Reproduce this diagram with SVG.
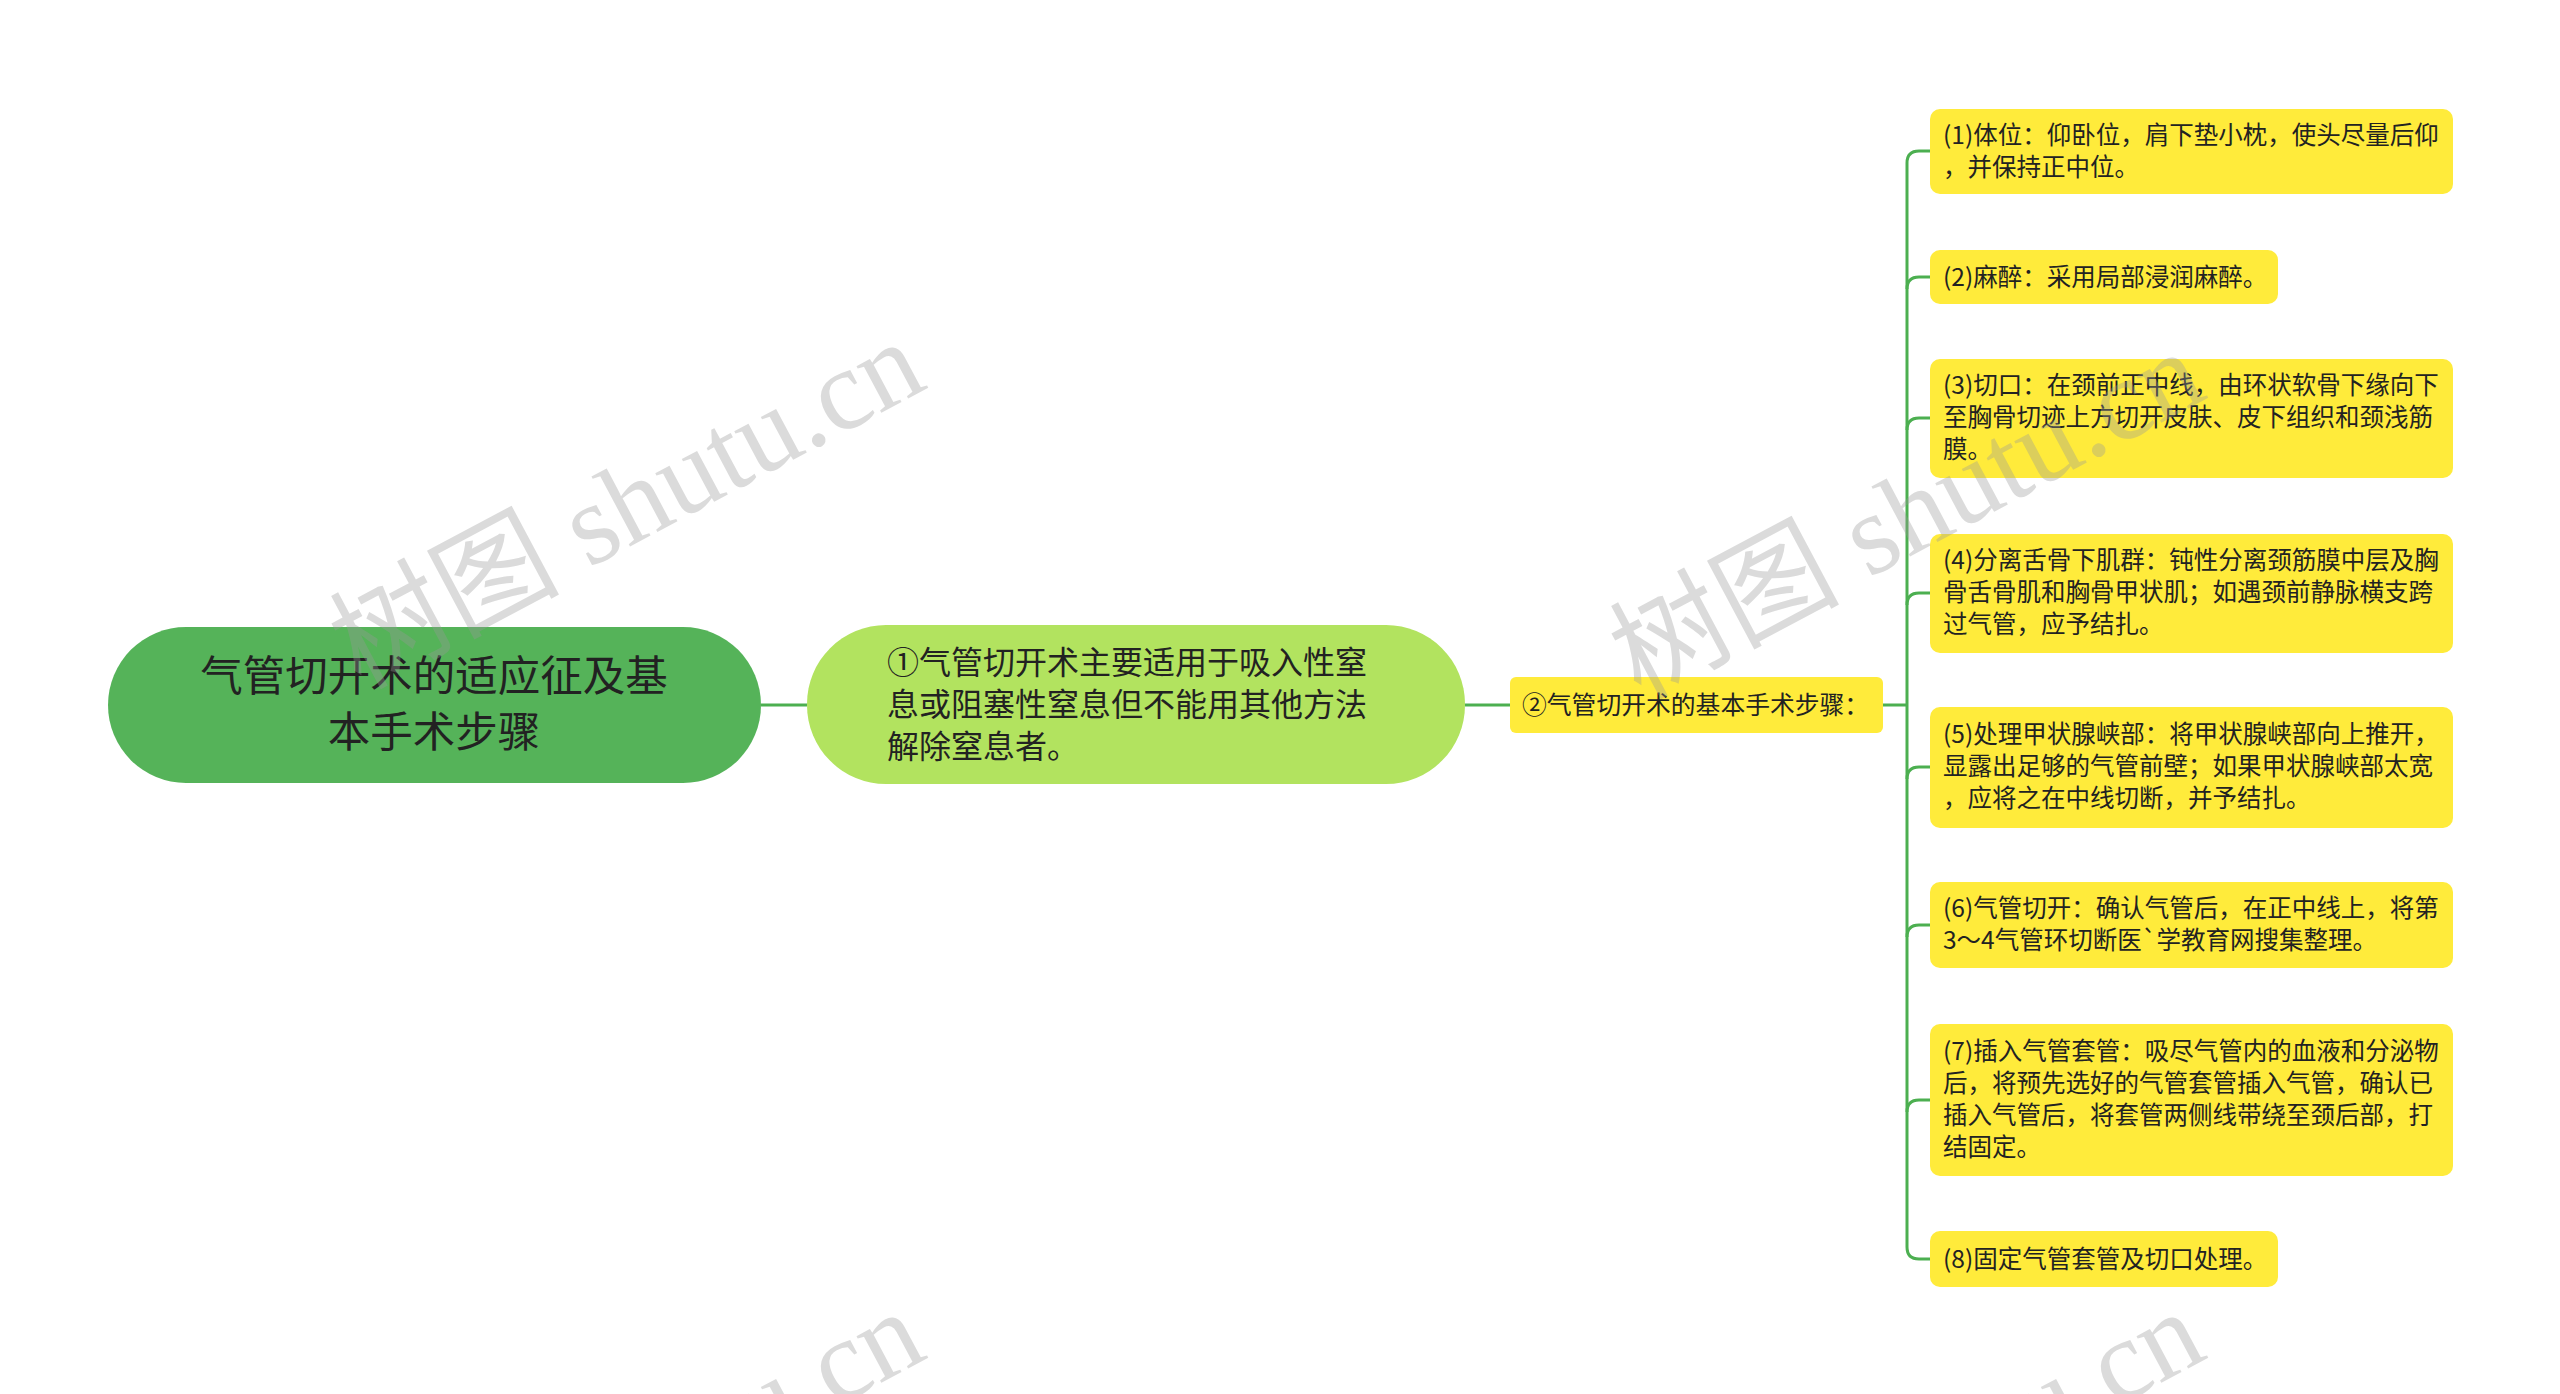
<svg xmlns="http://www.w3.org/2000/svg" width="2560" height="1394" viewBox="0 0 2560 1394">
<style>
.t{font-family:"Noto Sans CJK SC","Liberation Sans",sans-serif;fill:#222}
.y{fill:#ffeb3b}
.s{font-size:24.5px}
.c{fill:none;stroke:#4caf50;stroke-width:3}
.wm{font-family:"Liberation Serif","Noto Sans CJK SC",serif;font-size:115px;fill:#999;opacity:0.35}
</style>
<rect width="2560" height="1394" fill="#fff"/>
<g id="connectors">
<path class="c" d="M761 705H807M1465 705H1510M1883 705H1907"/>
<path class="c" d="M1930 151H1919Q1907 151 1907 163V1247Q1907 1259 1919 1259H1930"/>
<path class="c" d="M1930 277H1919Q1907 277 1907 289M1930 418H1919Q1907 418 1907 430M1930 593H1919Q1907 593 1907 605M1930 767H1919Q1907 767 1907 779M1930 925H1919Q1907 925 1907 937M1930 1100H1919Q1907 1100 1907 1112"/>
</g>
<g id="root"><rect x="108" y="627" width="653" height="156" rx="78" fill="#4caf50" opacity="0.95"/>
<text class="t" font-size="42.5" text-anchor="middle"><tspan x="434" y="691">气管切开术的适应征及基</tspan><tspan x="434" y="747">本手术步骤</tspan></text></g>
<g id="n1"><rect x="807" y="625" width="658" height="159" rx="79" fill="#b2e35f"/>
<text class="t" font-size="32"><tspan x="887" y="674">①气管切开术主要适用于吸入性窒</tspan><tspan x="887" y="716">息或阻塞性窒息但不能用其他方法</tspan><tspan x="887" y="758">解除窒息者。</tspan></text></g>
<g id="n2"><rect class="y" x="1510" y="677" width="373" height="56" rx="6"/>
<text class="t" font-size="24.8" x="1522" y="714">②气管切开术的基本手术步骤：</text></g>
<g id="b1"><rect class="y" x="1930" y="109" width="523" height="85" rx="10"/>
<text class="t s"><tspan x="1943" y="144">(1)体位：仰卧位，肩下垫小枕，使头尽量后仰</tspan><tspan x="1943" y="176">，并保持正中位。</tspan></text></g>
<g id="b2"><rect class="y" x="1930" y="250" width="348" height="54" rx="10"/>
<text class="t s" x="1943" y="286">(2)麻醉：采用局部浸润麻醉。</text></g>
<g id="b3"><rect class="y" x="1930" y="359" width="523" height="119" rx="10"/>
<text class="t s"><tspan x="1943" y="394">(3)切口：在颈前正中线，由环状软骨下缘向下</tspan><tspan x="1943" y="426">至胸骨切迹上方切开皮肤、皮下组织和颈浅筋</tspan><tspan x="1943" y="458">膜。</tspan></text></g>
<g id="b4"><rect class="y" x="1930" y="534" width="523" height="119" rx="10"/>
<text class="t s"><tspan x="1943" y="569">(4)分离舌骨下肌群：钝性分离颈筋膜中层及胸</tspan><tspan x="1943" y="601">骨舌骨肌和胸骨甲状肌；如遇颈前静脉横支跨</tspan><tspan x="1943" y="633">过气管，应予结扎。</tspan></text></g>
<g id="b5"><rect class="y" x="1930" y="707" width="523" height="121" rx="10"/>
<text class="t s"><tspan x="1943" y="743">(5)处理甲状腺峡部：将甲状腺峡部向上推开，</tspan><tspan x="1943" y="775">显露出足够的气管前壁；如果甲状腺峡部太宽</tspan><tspan x="1943" y="807">，应将之在中线切断，并予结扎。</tspan></text></g>
<g id="b6"><rect class="y" x="1930" y="882" width="523" height="86" rx="10"/>
<text class="t s"><tspan x="1943" y="917">(6)气管切开：确认气管后，在正中线上，将第</tspan><tspan x="1943" y="949">3～4气管环切断医`学教育网搜集整理。</tspan></text></g>
<g id="b7"><rect class="y" x="1930" y="1024" width="523" height="152" rx="10"/>
<text class="t s"><tspan x="1943" y="1060">(7)插入气管套管：吸尽气管内的血液和分泌物</tspan><tspan x="1943" y="1092">后，将预先选好的气管套管插入气管，确认已</tspan><tspan x="1943" y="1124">插入气管后，将套管两侧线带绕至颈后部，打</tspan><tspan x="1943" y="1156">结固定。</tspan></text></g>
<g id="b8"><rect class="y" x="1930" y="1231" width="348" height="56" rx="10"/>
<text class="t s" x="1943" y="1268">(8)固定气管套管及切口处理。</text></g>
<g id="watermarks">
<text class="wm" transform="translate(360,690) rotate(-28)">树图 shutu.cn</text>
<text class="wm" transform="translate(1640,700) rotate(-28)">树图 shutu.cn</text>
<text class="wm" transform="translate(360,1660) rotate(-28)">树图 shutu.cn</text>
<text class="wm" transform="translate(1640,1660) rotate(-28)">树图 shutu.cn</text>
</g>
</svg>
